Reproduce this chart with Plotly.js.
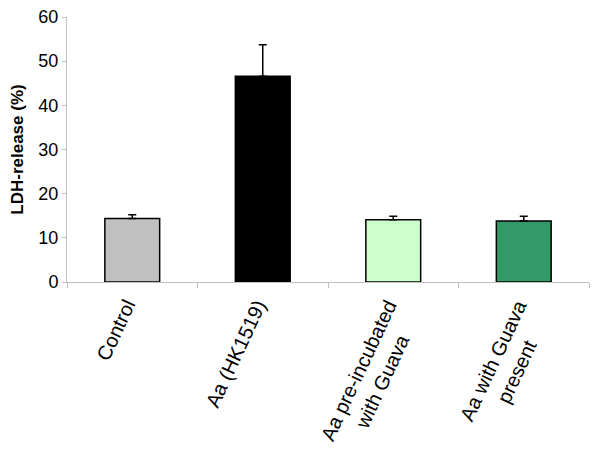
<!DOCTYPE html>
<html>
<head>
<meta charset="utf-8">
<script src="https://cdn.plot.ly/plotly-3.0.1.min.js"></script>
<style>
  html, body { margin: 0; padding: 0; background: #fff; }
  #chart { width: 600px; height: 459px; }
</style>
</head>
<body>
<div id="chart"></div>
<script>
const groups = ['Control', 'Aa (HK1519)', 'Aa pre-incubated<br>with Guava', 'Aa with Guava<br>present'];
const ldhRelease = [14.4, 46.6, 14.1, 13.8];
const errUp = [0.8, 7.1, 0.8, 1.1];
const barColors = ['#c0c0c0', '#000000', '#ccffcc', '#339966'];

const trace = {
  type: 'bar',
  x: groups,
  y: ldhRelease,
  marker: { color: barColors, line: { color: '#000', width: 1.5 } },
  error_y: {
    type: 'data',
    symmetric: false,
    array: errUp,
    arrayminus: ldhRelease.map(() => 0),
    color: '#000',
    thickness: 1.5,
    width: 4,
  },
  hoverinfo: 'skip',
};

const axisGrey = '#c0c0c0';
const labelAngle = -65;
const labelSize = 20;

// rotated category labels as annotations so wrapped lines stay centred.
// plotly anchors the whole rotated box, so every extra line pushes the
// first line left; shift it back by one line height projected on x
const lineShift = labelSize * 1.3 * Math.sin(-labelAngle * Math.PI / 180);
const labels = groups.map(g => ({
  x: g,
  xref: 'x',
  y: 0,
  yref: 'paper',
  yshift: -12,
  xshift: 10 + lineShift * (g.split('<br>').length - 1),
  xanchor: 'right',
  yanchor: 'top',
  text: g,
  textangle: labelAngle,
  align: 'center',
  showarrow: false,
  font: { size: labelSize },
}));

const layout = {
  width: 600,
  height: 459,
  paper_bgcolor: '#fff',
  plot_bgcolor: '#fff',
  font: { family: 'Arial, "Liberation Sans", sans-serif', color: '#000', size: 18 },
  margin: { t: 17, r: 11, b: 177, l: 67 },
  bargap: 0.58,
  showlegend: false,
  xaxis: {
    type: 'category',
    showline: true,
    linecolor: axisGrey,
    linewidth: 1,
    ticks: 'outside',
    tickson: 'boundaries',
    ticklen: 5,
    tickcolor: axisGrey,
    showticklabels: false,
    showgrid: false,
    zeroline: false,
  },
  yaxis: {
    range: [0, 60],
    dtick: 10,
    showline: true,
    linecolor: axisGrey,
    linewidth: 1,
    ticks: 'outside',
    ticklen: 4,
    tickcolor: axisGrey,
    tickfont: { size: 18 },
    showgrid: false,
    zeroline: false,
    title: { text: '<b>LDH-release (%)</b>', font: { size: 17 }, standoff: 10 },
  },
  annotations: labels,
};

Plotly.newPlot('chart', [trace], layout, { displayModeBar: false, staticPlot: true });
</script>
</body>
</html>
